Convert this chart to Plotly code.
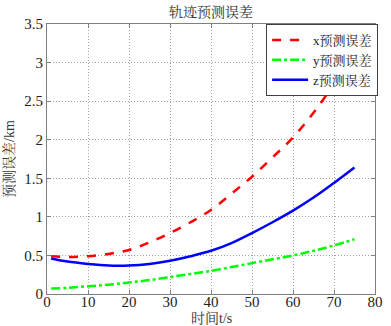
import plotly.graph_objects as go

t = [1, 5, 10, 15, 20, 25, 30, 35, 40, 45, 50, 55, 60, 65, 70, 75]
x_err = [0.49, 0.48, 0.49, 0.52, 0.57, 0.67, 0.79, 0.93, 1.09, 1.30, 1.52, 1.77, 2.03, 2.35, 2.72, 3.12]
y_err = [0.07, 0.08, 0.10, 0.12, 0.15, 0.18, 0.22, 0.26, 0.30, 0.35, 0.40, 0.45, 0.50, 0.56, 0.63, 0.71]
z_err = [0.46, 0.42, 0.39, 0.37, 0.37, 0.39, 0.43, 0.49, 0.56, 0.66, 0.79, 0.93, 1.08, 1.25, 1.44, 1.64]

names = ["x预测误差", "y预测误差", "z预测误差"]
title = "轨迹预测误差"
xlabel = "时间t/s"
ylabel = "预测误差/km"

FONT = "Liberation Serif, Times New Roman, Noto Serif CJK SC, Noto Sans CJK SC, serif"

fig = go.Figure()
fig.add_trace(go.Scatter(x=t, y=x_err, name=names[0], mode="lines", line_shape="spline",
                         line=dict(color="#ff0000", width=2.5, dash="dash")))
fig.add_trace(go.Scatter(x=t, y=y_err, name=names[1], mode="lines", line_shape="spline",
                         line=dict(color="#00ff00", width=2.5, dash="dashdot")))
fig.add_trace(go.Scatter(x=t, y=z_err, name=names[2], mode="lines", line_shape="spline",
                         line=dict(color="#0000ff", width=2.5)))

axis_common = dict(
    showline=True, linecolor="#808080", linewidth=1, mirror="allticks",
    ticks="inside", ticklen=4, tickcolor="#808080",
    showgrid=True, gridcolor="#a0a0a0", griddash="1px,2px", gridwidth=1,
    zeroline=False, tickfont=dict(family=FONT, size=15, color="#222"),
)

fig.update_layout(
    width=391, height=326,
    margin=dict(l=40, r=8, t=24, b=32),
    paper_bgcolor="white", plot_bgcolor="white",
    font=dict(family=FONT, size=14, color="#333"),
    xaxis=dict(range=[0, 80], dtick=10, ticklabelstandoff=-6, **axis_common),
    yaxis=dict(range=[0, 3.5], dtick=0.5, title=dict(text=ylabel, standoff=6,
               font=dict(family=FONT, size=14, color="#333")), **axis_common),
    legend=dict(x=0.668, y=1.0, xanchor="left", yanchor="top",
                bgcolor="white", bordercolor="#404040", borderwidth=1,
                font=dict(family=FONT, size=13, color="#222"),
                tracegroupgap=0, itemwidth=36),
    showlegend=True,
    annotations=[
        dict(text=title, xref="paper", yref="paper", x=0.5, y=1.044,
             xanchor="center", yanchor="middle", showarrow=False,
             font=dict(family=FONT, size=14, color="#333")),
        dict(text=xlabel, xref="paper", yref="paper", x=0.5, y=-0.09,
             xanchor="center", yanchor="middle", showarrow=False,
             font=dict(family=FONT, size=14, color="#333")),
    ],
)

fig.write_html("out.html", config={"displayModeBar": False},
               post_script="document.body.style.margin='0';")
